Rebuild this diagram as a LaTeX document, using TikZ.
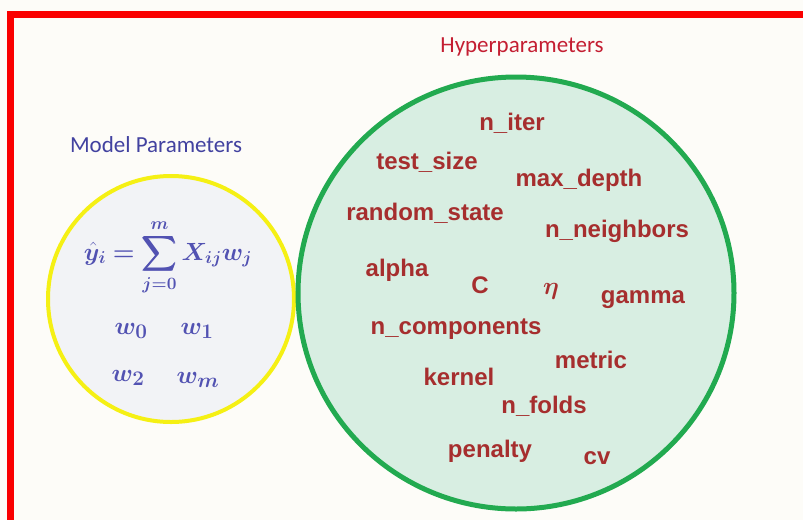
\documentclass[tikz,border=0pt]{standalone}
\usepackage{amsmath,amssymb,bm}
\usepackage{fontspec}
\newfontfamily\hpfont{Liberation Sans}
\newfontfamily\titlefont{Carlito}
\definecolor{framered}{RGB}{250,0,0}
\definecolor{titlered}{RGB}{196,30,50}
\definecolor{wordred}{RGB}{166,46,46}
\definecolor{titleblue}{RGB}{66,66,160}
\definecolor{mathblue}{RGB}{82,82,178}
\definecolor{ringyellow}{RGB}{245,240,20}
\definecolor{ringgreen}{RGB}{34,170,80}
\definecolor{mintfill}{RGB}{216,238,226}
\definecolor{greyfill}{RGB}{242,243,246}
\definecolor{paper}{RGB}{253,252,248}
\usetikzlibrary{positioning}

\begin{document}
\begin{tikzpicture}[x=1pt,y=-1pt,
  hyper/.style={font=\hpfont\bfseries\fontsize{24}{26}\selectfont,text=wordred,inner sep=0pt},
  title/.style={font=\titlefont\fontsize{23}{25}\selectfont,inner sep=0pt},
  wvar/.style={font=\fontsize{28}{30}\selectfont,text=mathblue,inner sep=0pt}]
\useasboundingbox (0,0) rectangle (803,520);
\fill[paper] (0,0) rectangle (803,520);
\draw[framered,line width=7pt] (803,14) -| (10,520);
% model parameters
\draw[ringyellow,fill=greyfill,line width=4pt] (171,299) circle[radius=123];
\node[title,text=titleblue] (mp) at (156,145) {Model Parameters};
\node[wvar,font=\fontsize{24}{26}\selectfont] (yhat) at (168,257) {$\displaystyle\bm{\hat{y}_i=\sum_{j=0}^{m}X_{ij}w_j}$};
\node[wvar] (w0) at (131,331) {$\bm{w_0}$};
\node[wvar] (w1) at (197,331) {$\bm{w_1}$};
\node[wvar] (w2) at (128,378) {$\bm{w_2}$};
\node[wvar] (wm) at (198,380) {$\bm{w_m}$};
% hyperparameters
\draw[ringgreen,fill=mintfill,line width=5pt] (516,293) ellipse[x radius=218,y radius=216];
\node[title,text=titlered] (hp) at (522,47) {Hyperparameters};
\node[hyper] (niter) at (512,123) {n\_iter};
\node[hyper] (testsize) at (427,162) {test\_size};
\node[hyper] (maxdepth) at (579,180) {max\_depth};
\node[hyper] (randstate) at (425,213) {random\_state};
\node[hyper] (nneigh) at (617,231) {n\_neighbors};
\node[hyper] (alpha) at (397,270) {alpha};
\node[hyper] (cpar) at (480,285) {C};
\node[hyper] (eta) at (551,291) {$\bm{\eta}$};
\node[hyper] (gamma) at (643,300) {gamma};
\node[hyper] (ncomp) at (456,329) {n\_components};
\node[hyper] (metric) at (591,360) {metric};
\node[hyper] (kernel) at (459,377) {kernel};
\node[hyper] (nfolds) at (544,406) {n\_folds};
\node[hyper] (penalty) at (490,451) {penalty};
\node[hyper] (cv) at (597,458) {cv};
\end{tikzpicture}
\end{document}
